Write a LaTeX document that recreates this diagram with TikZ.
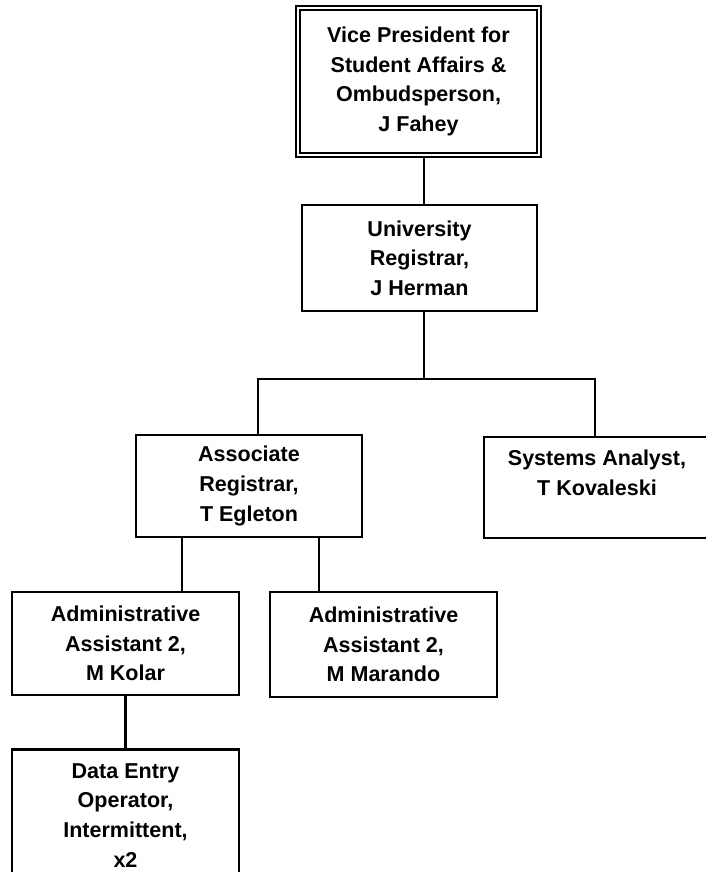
\documentclass[tikz,border=0pt]{standalone}
\usepackage{fontspec}
\setmainfont{Liberation Sans}
\usepackage{tikz}
\usetikzlibrary{positioning,calc}
\tikzset{
  orgbox/.style={draw=black,line width=1.9pt,minimum width=5.675cm,minimum height=2.575cm,
    align=center,inner sep=2pt,font=\fontsize{15.3}{21}\selectfont\bfseries},
  orgboxtop/.style={orgbox,double,double distance=1.4pt,line width=1.2pt},
  orgline/.style={line width=1.9pt,draw=black}
}
\begin{document}
\begin{tikzpicture}[x=0.025cm,y=-0.025cm]
  \useasboundingbox (0,0) rectangle (705,872);
  \node[orgboxtop,minimum width=6.025cm,minimum height=3.675cm] (vp) at (418.5,81.5)
    {Vice President for\\Student Affairs \&\\Ombudsperson,\\J Fahey};
  \node[orgbox,minimum width=5.875cm,minimum height=2.65cm] (reg) at (419.5,258)
    {University\\Registrar,\\J Herman};
  \node[orgbox,minimum width=5.65cm,minimum height=2.55cm] (assoc) at (249,486)
    {Associate\\Registrar,\\T Egleton};
  \node[orgbox,minimum width=5.65cm,minimum height=2.525cm] (sys) at (597,487.5)
    {Systems Analyst,\\T Kovaleski\\\mbox{}};
  \node[orgbox] (kolar) at (125.5,643.5)
    {Administrative\\Assistant 2,\\M Kolar};
  \node[orgbox,minimum height=2.625cm] (marando) at (383.5,644.5)
    {Administrative\\Assistant 2,\\M Marando};
  \node[orgbox,minimum height=3.3cm,anchor=north] (entry) at (125.5,748)
    {Data Entry\\Operator,\\Intermittent,\\x2};
  % reporting lines
  \coordinate (busC) at (424,379);
  \coordinate (busL) at (258,379);
  \coordinate (busR) at (595,379);
  \coordinate (dropK) at (182,0);
  \coordinate (dropM) at (319,0);
  \draw[orgline] (vp.south -| busC) -- (reg.north -| busC);
  \draw[orgline] (reg.south -| busC) -- (busC);
  \draw[orgline] (assoc.north -| busL) -- (busL) -- (busR) -- (sys.north -| busR);
  \draw[orgline] (assoc.south -| dropK) -- (kolar.north -| dropK);
  \draw[orgline] (assoc.south -| dropM) -- (marando.north -| dropM);
  \draw[orgline] (kolar.south) -- (entry.north);
\end{tikzpicture}
\end{document}
